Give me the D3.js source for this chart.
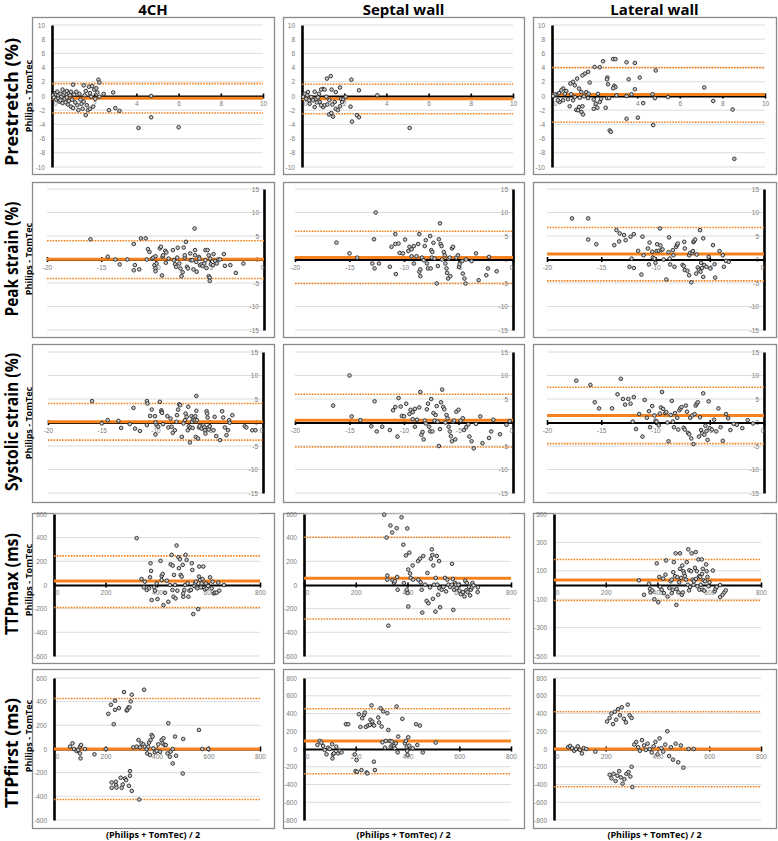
<!DOCTYPE html>
<html><head><meta charset="utf-8">
<script src="https://cdn.jsdelivr.net/npm/d3@7"></script>
<style>body{margin:0;background:#fff}svg{display:block}</style>
</head><body><svg id="c" width="778" height="841"></svg>
<script>
// ---------------- DATA ----------------
const columnTitles = ["4CH", "Septal wall", "Lateral wall"];
const rowTitles = ["Prestretch (%)", "Peak strain (%)", "Systolic strain (%)", "TTPmax (ms)", "TTPfirst (ms)"];
const yAxisTitle = "Philips - TomTec";
const xAxisTitle = "(Philips + TomTec) / 2";

const xTicksPrestretch = [0, 2, 4, 6, 8, 10];
const yTicksPrestretch = [-10, -8, -6, -4, -2, 0, 2, 4, 6, 8, 10];
const xTicksStrain = [-20, -15, -10, -5, 0];
const yTicksStrain = [-15, -10, -5, 0, 5, 10, 15];
const xTicksTime = [0, 200, 400, 600, 800];
const yTicksTime600 = [-600, -400, -200, 0, 200, 400, 600];
const yTicksTime500 = [-500, -300, -100, 100, 300, 500];
const yTicksTime800 = [-800, -600, -400, -200, 0, 200, 400, 600, 800];

// [mean, upper LoA, lower LoA] per column (4CH, Septal, Lateral)
const prestretchLimits = [[-0.3, 1.75, -2.4], [-0.37, 1.65, -2.5], [0.2, 4.0, -3.7]];
const peakLimits = [[0.05, 4.0, -4.05], [0.45, 6.0, -5.1], [1.15, 6.8, -4.55]];
const systolicLimits = [[0.15, 4.05, -3.75], [0.5, 6.0, -5.2], [1.5, 7.5, -4.5]];
const ttpmaxLimits = [[34, 246, -190], [57, 404, -287], [36, 180, -109]];
const ttpfirstLimits = [[0, 427, -427], [90, 453, -279], [0, 420, -425]];

const prestretch4CH = [[0.05,0.1],[0.1,-0.2],[0.15,0.4],[0.2,0.2],[0.2,-0.5],[0.25,0.6],[0.3,-0.3],[0.3,0.1],[0.35,-0.8],[0.4,0.3],[0.4,-0.6],[0.45,-0.1],[0.5,0.9],[0.5,-1.0],[0.55,0.2],[0.6,-0.4],[0.6,0.5],[0.65,-0.9],[0.7,0.7],[0.7,-0.2],[0.75,-1.2],[0.8,0.4],[0.8,-0.7],[0.85,0.1],[0.9,-1.5],[0.9,0.6],[0.95,-0.5],[1.0,1.6],[1.0,-1.7],[1.05,0.2],[1.1,-0.9],[1.15,0.6],[1.2,-1.3],[1.25,-2.0],[1.3,0.3],[1.35,-0.5],[1.4,-1.1],[1.45,-1.8],[1.5,1.5],[1.5,-0.8],[1.55,0.1],[1.6,-2.7],[1.6,0.7],[1.65,-1.3],[1.7,-2.0],[1.75,1.3],[1.8,-1.8],[1.8,0.4],[1.85,-0.1],[1.9,1.4],[1.95,-1.5],[2.0,0.9],[2.05,-0.4],[2.1,1.1],[2.15,0.5],[2.2,2.3],[2.25,1.9],[2.25,-0.1],[2.45,0.3],[2.7,-2.0],[2.9,0.5],[3.0,-1.7],[3.2,-2.1],[4.1,-4.5],[4.7,-3.0],[4.7,0.0],[6.0,-4.4]];
const prestretchSeptal = [[1.18,2.45],[1.36,2.8],[2.34,2.3],[2.7,0.8],[3.57,0.1],[5.1,-4.5],[2.37,-3.6],[2.6,-2.7],[2.7,-3.0],[2.3,-1.5],[1.28,-2.6],[1.47,-2.9],[1.39,-2.4],[1.6,-1.8],[1.8,1.2],[1.4,0.9],[1.0,1.0],[0.9,0.9],[1.07,0.9],[0.8,0.3],[1.0,-1.55],[1.07,-1.3],[1.2,-1.2],[1.6,0.55],[1.85,-0.4],[1.95,-0.5],[2.07,-0.1],[1.7,-2.0],[1.8,-1.45],[1.55,-0.85],[0.52,-0.6],[0.36,-1.1],[0.6,-1.55],[0.28,0.55],[0.13,0.3],[0.2,-0.4],[0.44,-0.15],[0.68,-0.4],[0.84,-0.85],[0.05,-0.1],[0.33,-0.6],[0.76,-0.2],[1.3,-0.6],[1.15,-0.1],[1.44,-1.2],[1.9,-0.85],[0.6,0.6],[0.9,-1.3],[0.25,0.1],[0.7,-0.9]];
const prestretchLateral = [[2.4,4.9],[2.87,5.2],[2.98,5.2],[3.5,4.75],[3.89,4.65],[2.0,4.1],[2.24,4.05],[4.87,3.6],[1.7,3.4],[1.54,3.15],[1.43,2.9],[2.6,2.6],[2.58,2.35],[3.6,2.35],[4.12,2.6],[1.18,2.45],[0.99,2.0],[1.77,1.9],[0.86,1.75],[1.07,1.5],[2.63,1.65],[2.92,1.45],[2.98,1.25],[2.87,1.1],[3.89,0.95],[7.15,1.2],[0.52,1.05],[0.44,0.8],[0.67,0.7],[1.27,1.05],[1.38,0.55],[1.61,0.55],[1.72,0.3],[2.16,0.3],[3.03,0.1],[3.5,0.0],[3.73,0.25],[4.72,0.25],[4.83,-0.3],[5.45,-0.15],[7.57,-0.7],[8.48,-1.9],[8.56,-8.85],[2.52,-1.65],[2.71,-4.85],[2.76,-5.05],[3.5,-3.2],[4.03,-3.05],[4.28,-1.0],[4.75,-4.1],[0.83,-1.45],[1.14,-1.95],[1.27,-1.55],[1.43,-1.45],[1.38,-2.25],[1.46,-2.6],[1.22,-2.0],[1.96,-1.8],[2.13,-1.65],[2.05,-1.1],[2.24,-0.85],[1.96,-0.5],[2.3,-0.4],[2.59,-0.3],[2.68,-0.3],[1.69,-0.3],[0.99,-0.6],[0.75,-0.45],[0.52,-0.6],[0.36,-0.85],[0.28,-0.6],[0.2,0.2],[0.13,0.2],[0.05,0.0],[0.33,0.4],[0.6,0.3],[0.9,0.25],[1.07,-0.15],[1.3,-0.25],[1.5,-0.05]];

const peak4CH = [[-16.0,4.3],[-14.4,0.6],[-13.7,0],[-13.3,-1.05],[-12.6,0],[-12.0,3.3],[-11.9,-1.2],[-12.0,-2.3],[-11.5,-2.1],[-11.35,4.5],[-10.9,4.5],[-10.7,2.2],[-10.55,1.6],[-10.8,0],[-10.3,0.2],[-10.2,0.4],[-10.0,0.7],[-10.1,-1.2],[-10.0,-1.9],[-10.0,-2.5],[-9.9,-0.85],[-9.4,-3.4],[-9.6,2.35],[-9.5,2.7],[-9.35,0.6],[-9.3,0.9],[-9.1,1.85],[-9.0,1.5],[-9.05,-0.7],[-8.8,0.2],[-8.4,2.0],[-8.3,-0.15],[-8.2,-1.0],[-8.1,-1.55],[-8.0,0.4],[-7.95,2.5],[-7.8,-0.85],[-7.7,-1.9],[-7.6,-3.55],[-7.5,-2.7],[-7.4,2.55],[-7.3,0.4],[-7.3,0.9],[-7.2,3.75],[-7.1,-1.55],[-7.0,-1.9],[-6.8,1.3],[-6.75,-0.15],[-6.6,-0.15],[-6.5,-2.1],[-6.4,6.6],[-6.35,2.0],[-6.35,0.9],[-6.25,-0.5],[-6.2,-2.6],[-6.0,0.55],[-5.95,0.2],[-5.9,-1.2],[-5.75,-1.0],[-5.65,-1.4],[-5.5,-0.85],[-5.4,2.0],[-5.4,-0.15],[-5.3,-1.8],[-5.2,2.0],[-5.1,0.9],[-5.1,-3.55],[-5.0,-3.85],[-5.0,-4.55],[-4.95,0.2],[-4.9,-1.0],[-4.7,-1.2],[-4.65,1.15],[-4.5,-0.3],[-4.35,-0.85],[-4.2,0],[-4.05,0],[-3.7,1.15],[-3.6,-1.35],[-3.1,-1.2],[-2.6,-2.85],[-1.9,-0.85]];
const peakSeptal = [[-16.2,3.6],[-15.0,1.3],[-14.3,0.4],[-12.9,-0.85],[-12.75,4.3],[-12.7,-1.9],[-12.6,10.0],[-12.3,-0.85],[-11.3,-1.55],[-11.15,2.7],[-10.8,3.3],[-10.75,-3.1],[-10.8,5.4],[-10.5,3.4],[-10.4,1.4],[-10.1,1.3],[-9.9,4.25],[-9.6,1.8],[-9.5,2.7],[-9.3,2.2],[-9.3,0.7],[-9.1,-0.85],[-9.1,2.85],[-8.85,0.7],[-8.7,3.3],[-8.6,5.4],[-8.6,-2.6],[-8.5,-2.1],[-8.5,-3.55],[-8.35,0.4],[-8.2,-0.15],[-8.1,2.85],[-8.0,4.1],[-7.9,-0.85],[-7.8,-1.9],[-7.6,5.0],[-7.55,-1.9],[-7.5,2.0],[-7.45,0.4],[-7.4,1.6],[-7.3,3.55],[-7.2,0.2],[-7.0,-5.1],[-6.9,-1.4],[-6.8,4.3],[-6.7,7.7],[-6.65,3.3],[-6.55,2.85],[-6.5,0],[-6.35,1.6],[-6.25,0.9],[-6.2,-0.85],[-6.1,-1.9],[-6.05,-2.85],[-5.95,-4.05],[-5.9,0.2],[-5.8,0.4],[-5.75,-3.55],[-5.6,2.35],[-5.5,2.7],[-5.2,0.4],[-5.05,0.9],[-4.95,-1.55],[-4.9,-1.0],[-4.65,-0.35],[-4.6,-3.0],[-4.45,-4.05],[-4.35,-5.1],[-4.3,0],[-3.8,-0.35],[-3.4,1.3],[-3.15,-4.4],[-2.45,-3.35],[-2.3,-1.9],[-2.2,0.55],[-1.5,-2.5]];
const peakLateral = [[-17.7,8.75],[-16.2,8.75],[-16.2,4.25],[-15.45,3.25],[-13.8,3.05],[-13.6,6.25],[-13.3,5.55],[-13.35,3.85],[-12.9,5.2],[-12.75,4.1],[-12.3,4.85],[-12.2,0.2],[-12.0,5.4],[-12.4,-1.55],[-12.0,-1.8],[-11.6,1.85],[-11.3,-3.2],[-11.2,4.85],[-11.1,0.9],[-10.7,2.35],[-10.6,-1.05],[-10.55,3.6],[-10.3,1.65],[-10.25,0.4],[-10.1,0.2],[-10.0,-0.7],[-9.9,1.8],[-9.85,3.25],[-9.7,1.85],[-9.6,6.6],[-9.55,3.0],[-9.45,2.0],[-9.35,2.15],[-9.25,0],[-9.0,-4.25],[-8.8,1.55],[-8.75,4.7],[-8.7,0.2],[-8.65,-1.05],[-8.4,2.0],[-8.35,0.9],[-8.25,-1.55],[-8.1,2.7],[-8.0,3.1],[-7.95,3.4],[-7.5,-1.15],[-7.4,-1.4],[-7.35,3.75],[-7.3,2.35],[-7.3,-2.25],[-7.05,-2.4],[-6.9,0.9],[-6.9,-3.35],[-6.8,1.4],[-6.7,-4.85],[-6.6,1.4],[-6.55,1.8],[-6.5,3.7],[-6.45,3.9],[-6.35,4.25],[-6.25,-3.0],[-6.2,1.05],[-6.1,-1.7],[-6.0,-2.25],[-5.9,6.25],[-5.85,-2.6],[-5.8,-0.7],[-5.7,-1.8],[-5.6,-3.7],[-5.6,4.5],[-5.5,-1.2],[-5.3,-1.55],[-5.1,0.55],[-4.95,-1.9],[-4.7,3.05],[-4.55,-1.0],[-4.5,-3.85],[-4.1,1.8],[-3.8,0.9],[-3.7,-1.55],[-3.5,-0.3],[-3.25,-0.5]];

const systolic4CH = [[-15.9,4.55],[-15.0,-0.2],[-14.45,0.5],[-13.45,0.35],[-13.2,-1.15],[-12.4,-0.35],[-12.05,3.1],[-11.9,-1.3],[-11.45,-1.8],[-10.8,4.55],[-10.75,4.05],[-10.8,-0.55],[-10.5,1.4],[-10.35,2.75],[-10.05,1.35],[-10.0,0],[-9.9,-0.55],[-10.0,-2.55],[-9.75,-0.9],[-9.6,4.4],[-9.45,2.6],[-9.45,2.25],[-9.4,2.05],[-9.3,-0.35],[-8.9,1.35],[-8.8,-1.05],[-8.6,0.85],[-8.5,-0.9],[-8.4,-2.2],[-8.2,-1.65],[-8.05,0.15],[-8.0,1.55],[-7.9,2.75],[-7.8,3.85],[-7.7,3.7],[-7.55,-3.05],[-7.4,-0.2],[-7.25,0.5],[-7.2,1.9],[-7.1,1.2],[-7.0,-1.65],[-6.95,3.35],[-6.9,-0.8],[-6.8,-4.25],[-6.75,-1.05],[-6.65,1.35],[-6.6,0.15],[-6.55,-1.15],[-6.5,0.65],[-6.45,1.05],[-6.35,0.5],[-6.3,1.35],[-6.25,-3.05],[-6.2,5.65],[-6.2,2.5],[-6.15,0.5],[-6.05,-3.4],[-5.95,-1.05],[-5.9,-0.8],[-5.7,-1.3],[-5.55,-0.55],[-5.45,-1.05],[-5.4,-1.65],[-5.35,-2.35],[-5.25,2.4],[-5.2,1.9],[-5.15,1.05],[-5.1,-1.05],[-5.05,-1.5],[-4.95,-0.8],[-4.6,-1.65],[-4.5,1.2],[-4.35,-2.9],[-4.0,-3.75],[-3.8,2.4],[-3.7,1.05],[-3.55,-1.05],[-3.4,-2.7],[-3.25,-1.65],[-3.15,0.5],[-3.1,-0.05],[-2.85,1.55],[-1.7,-0.8],[-1.55,-1.05],[-1.0,-1.65],[-0.7,-1.65]];
const systolicSeptal = [[-16.5,3.6],[-15.0,10.0],[-14.8,1.3],[-14.0,0.5],[-13.0,-0.8],[-12.7,4.5],[-12.5,-1.9],[-12.0,-0.9],[-11.3,-1.6],[-11.0,2.6],[-10.8,3.3],[-10.6,-3.0],[-10.5,5.2],[-10.3,3.4],[-10.2,1.4],[-10.0,1.3],[-9.8,4.0],[-9.5,1.8],[-9.4,2.7],[-9.2,2.2],[-9.2,0.7],[-9.0,-0.9],[-9.0,2.9],[-8.8,0.6],[-8.6,3.2],[-8.5,6.5],[-8.4,-2.6],[-8.3,-2.0],[-8.2,-3.6],[-8.1,0.4],[-8.0,-0.2],[-7.9,2.8],[-7.8,4.0],[-7.7,-0.9],[-7.6,-1.9],[-7.5,5.0],[-7.4,-1.9],[-7.3,2.0],[-7.2,0.4],[-7.1,1.6],[-7.0,3.5],[-6.9,0.2],[-6.8,-5.0],[-6.7,-1.4],[-6.6,4.3],[-6.5,7.0],[-6.4,3.3],[-6.3,2.8],[-6.2,0],[-6.1,1.6],[-6.0,0.9],[-5.9,-0.9],[-5.8,-1.9],[-5.7,-2.9],[-5.6,-4.0],[-5.5,0.2],[-5.4,0.4],[-5.3,-3.6],[-5.2,2.3],[-5.0,2.7],[-4.8,0.4],[-4.6,0.9],[-4.5,-1.6],[-4.3,-1.0],[-4.1,-0.4],[-4.0,-3.0],[-3.8,-4.0],[-3.6,-5.5],[-3.4,-0.3],[-3.0,1.3],[-2.8,-4.4],[-2.2,-3.3],[-2.0,-1.9],[-1.8,0.6],[-1.2,-2.5],[-0.6,-0.5],[-0.3,0.3]];
const systolicLateral = [[-17.3,8.9],[-16.0,8.0],[-15.6,4.3],[-15.2,3.0],[-14.0,3.0],[-13.5,6.0],[-13.2,9.3],[-13.0,5.0],[-12.8,3.8],[-12.5,5.0],[-12.3,4.0],[-12.1,0.2],[-12.0,5.4],[-11.8,-1.4],[-11.5,1.8],[-11.2,-3.0],[-11.0,4.8],[-10.8,1.0],[-10.6,2.4],[-10.5,-1.0],[-10.3,3.5],[-10.1,1.5],[-10.0,0.4],[-9.9,0.2],[-9.7,-0.6],[-9.6,1.9],[-9.5,3.2],[-9.4,6.5],[-9.3,2.9],[-9.1,2.0],[-9.0,2.2],[-8.9,0.0],[-8.8,-4.0],[-8.6,1.6],[-8.5,4.6],[-8.4,0.2],[-8.3,-1.0],[-8.2,2.0],[-8.0,1.0],[-7.9,-1.5],[-7.8,2.6],[-7.7,3.0],[-7.6,3.3],[-7.4,-1.1],[-7.3,-1.5],[-7.2,3.6],[-7.1,2.3],[-7.0,-2.2],[-6.9,-2.5],[-6.8,1.0],[-6.7,-3.4],[-6.6,1.5],[-6.5,-4.6],[-6.4,1.8],[-6.3,3.6],[-6.2,4.0],[-6.1,4.3],[-6.0,-3.0],[-5.9,1.1],[-5.8,-1.6],[-5.7,-2.3],[-5.6,6.2],[-5.5,-2.6],[-5.4,-0.7],[-5.3,-1.8],[-5.2,-3.7],[-5.1,4.5],[-5.0,-1.2],[-4.8,-1.5],[-4.6,0.6],[-4.4,-1.9],[-4.2,3.0],[-4.0,-1.0],[-3.8,-3.9],[-3.5,1.8],[-3.3,0.9],[-3.1,-1.6],[-2.8,-0.3],[-2.5,-0.5],[-2.0,-1.2],[-1.5,0.5],[-1.0,-0.2]];

const ttpmax4CH = [[321,396],[340,51],[353,28],[349,-20],[360,-42],[369,-28],[373,65],[375,184],[377,119],[379,-127],[389,-20],[392,-48],[399,14],[402,-119],[414,204],[418,76],[418,42],[422,93],[425,-170],[431,-65],[438,37],[444,-142],[450,0],[453,175],[457,255],[460,-42],[461,164],[464,-99],[466,85],[470,0],[472,-113],[476,334],[479,-48],[483,235],[485,142],[489,218],[492,85],[496,71],[500,170],[502,-99],[502,-71],[506,-42],[509,0],[511,255],[515,212],[519,14],[522,-99],[526,-48],[532,-42],[535,184],[537,127],[541,-246],[545,-8],[548,14],[551,28],[554,-20],[557,-28],[560,-204],[563,71],[564,156],[567,42],[570,-20],[573,14],[577,51],[580,156],[583,-23],[586,-37],[590,14],[593,-28],[599,-8],[606,65],[612,-28],[616,28],[621,-71],[625,-65],[632,-65],[638,20],[642,-48],[660,0]];
const ttpmaxSeptal = [[310,594],[319,401],[322,45],[322,80],[326,-344],[334,503],[341,444],[342,40],[348,17],[351,31],[358,480],[360,68],[362,-40],[377,572],[384,341],[386,17],[394,250],[397,-40],[399,478],[400,-68],[403,131],[403,-182],[407,273],[410,97],[412,60],[420,165],[422,45],[441,202],[442,45],[448,222],[451,23],[455,-40],[457,-233],[461,245],[468,3],[474,-134],[477,102],[481,-154],[487,-20],[490,222],[494,301],[496,253],[498,-117],[500,165],[503,3],[508,-225],[509,60],[513,245],[515,3],[519,-82],[522,202],[523,-26],[526,-188],[532,-40],[539,-17],[545,60],[549,-54],[554,45],[558,3],[565,-17],[571,3],[572,179],[575,51],[577,-210],[580,-40],[584,17],[587,3],[590,-26],[597,3],[601,-48],[606,-77],[614,-60],[620,-97],[623,37],[627,-45],[629,17],[632,-60],[638,-17],[642,-88],[645,-40],[649,-20],[651,17],[655,-3],[671,-60],[672,-20]];
const ttpmaxLateral = [[328,33],[348,-69],[367,9],[371,-28],[373,-52],[380,-38],[388,-100],[397,152],[403,-121],[407,57],[410,-14],[416,-33],[422,45],[425,-57],[431,73],[433,173],[439,-81],[446,-21],[451,26],[455,38],[455,-57],[459,-33],[461,90],[463,161],[468,62],[470,223],[473,-140],[474,-28],[477,55],[481,-52],[484,19],[487,223],[487,114],[491,50],[494,-69],[496,137],[498,-52],[500,97],[503,81],[506,62],[510,38],[513,161],[517,2],[519,251],[522,-38],[523,104],[526,-14],[530,97],[532,223],[536,38],[539,2],[541,26],[545,121],[548,232],[549,43],[552,97],[554,-9],[558,180],[561,62],[562,-33],[565,57],[567,2],[571,180],[572,78],[574,-33],[575,114],[578,33],[581,-40],[584,26],[588,145],[590,97],[593,57],[597,-9],[601,19],[614,102],[621,-45],[624,-28],[629,-14],[642,0],[642,-85],[651,-69],[658,-52],[664,-38]];

const ttpfirst4CH = [[62,20],[72,48],[78,0],[88,-17],[94,-8],[101,20],[101,-37],[103,-79],[105,34],[120,0],[157,-45],[201,0],[211,297],[221,374],[224,-283],[224,-328],[232,209],[237,331],[237,408],[240,-277],[241,-306],[243,-326],[252,345],[259,-243],[263,-328],[267,-300],[272,481],[276,-249],[280,-263],[282,326],[285,331],[289,351],[291,-311],[293,351],[295,-226],[298,402],[302,459],[295,-187],[302,-354],[308,14],[321,20],[328,76],[331,-427],[334,14],[340,48],[347,40],[350,501],[353,20],[360,0],[362,-37],[366,20],[369,54],[373,-51],[375,76],[379,119],[383,105],[386,6],[392,-28],[399,-17],[405,40],[412,-23],[418,76],[422,48],[425,91],[429,34],[434,34],[441,-37],[444,218],[450,-65],[453,-23],[461,0],[461,-122],[470,105],[474,-57],[500,-207],[502,85],[563,161],[576,0],[599,0]];
const ttpfirstSeptal = [[52,45],[61,91],[67,72],[74,34],[80,-11],[87,-60],[93,15],[99,0],[109,53],[112,-60],[110,-106],[116,-49],[125,26],[132,-49],[138,-23],[145,-38],[162,279],[171,279],[196,-60],[203,-125],[199,-249],[205,-257],[212,392],[218,249],[222,-238],[225,347],[232,385],[235,411],[239,249],[242,-264],[245,-275],[248,264],[255,272],[257,328],[261,491],[264,309],[267,272],[270,-143],[271,264],[274,-238],[287,355],[290,298],[296,460],[300,253],[303,75],[306,423],[313,15],[316,91],[322,404],[326,215],[332,91],[335,26],[339,83],[342,38],[348,34],[351,8],[355,64],[358,479],[362,-38],[364,140],[380,340],[390,64],[394,91],[397,26],[399,-23],[400,-68],[403,132],[407,38],[420,8],[433,279],[438,45],[448,264],[459,-38],[509,72]];
const ttpfirstLateral = [[55,20],[62,35],[70,10],[78,-20],[85,0],[92,30],[100,-10],[108,-50],[115,10],[125,0],[160,-30],[205,310],[215,350],[222,400],[228,280],[235,420],[240,330],[248,450],[255,380],[262,470],[270,340],[278,300],[285,500],[292,380],[300,350],[215,-290],[222,-330],[230,-280],[238,-360],[245,-300],[252,-250],[258,-320],[265,-390],[272,-340],[280,-280],[288,-260],[295,-310],[300,-200],[303,-430],[310,50],[318,80],[325,20],[332,-20],[340,100],[348,40],[355,-10],[362,60],[370,0],[378,-40],[385,30],[392,80],[400,-60],[408,120],[415,10],[422,-30],[430,50],[438,200],[445,-80],[452,20],[460,-120],[470,60],[480,-150],[490,40],[500,-210],[520,0],[540,0]];

// ---------------- LAYOUT ----------------
const svg = d3.select("#c");
const colBox = [[32, 274], [283, 524], [533, 776]];
const rowBox = [[17, 174], [182, 337], [344, 502], [513, 663], [669, 828]];
const plotX = [
  [[52, 263], [302, 513], [552, 765]],
  [[47, 264], [295, 513], [547, 764]],
  [[48, 263], [295, 513], [547, 764]],
  [[54, 260], [304, 511], [554, 761]],
  [[54, 260], [304, 511], [554, 761]]];
const plotY = [[25, 167], [189, 330], [352, 493], [514, 656], [678, 820]];
const rowLabelY = [102, 259, 422, 584, 753];
const rowLabelLen = [128, 115, 138, 102, 110];
const axisLabelY = [96, 259, 423, 580, 736];
const ORANGE = "#f5821f";
const FONT = "'Open Sans', 'DejaVu Sans', sans-serif";
const TICKFONT = "'Liberation Sans', Arial, sans-serif";
const fmt = d => String(d);

const rows = [
  {xd: [0, 10], xt: xTicksPrestretch, yd: [[-10, 10], [-10, 10], [-10, 10]], yt: [yTicksPrestretch, yTicksPrestretch, yTicksPrestretch], pts: [prestretch4CH, prestretchSeptal, prestretchLateral], lim: prestretchLimits},
  {xd: [-20, 0], xt: xTicksStrain, yd: [[-15, 15], [-15, 15], [-15, 15]], yt: [yTicksStrain, yTicksStrain, yTicksStrain], pts: [peak4CH, peakSeptal, peakLateral], lim: peakLimits},
  {xd: [-20, 0], xt: xTicksStrain, yd: [[-15, 15], [-15, 15], [-15, 15]], yt: [yTicksStrain, yTicksStrain, yTicksStrain], pts: [systolic4CH, systolicSeptal, systolicLateral], lim: systolicLimits},
  {xd: [0, 800], xt: xTicksTime, yd: [[-600, 600], [-600, 600], [-500, 500]], yt: [yTicksTime600, yTicksTime600, yTicksTime500], pts: [ttpmax4CH, ttpmaxSeptal, ttpmaxLateral], lim: ttpmaxLimits},
  {xd: [0, 800], xt: xTicksTime, yd: [[-600, 600], [-800, 800], [-800, 800]], yt: [yTicksTime600, yTicksTime800, yTicksTime800], pts: [ttpfirst4CH, ttpfirstSeptal, ttpfirstLateral], lim: ttpfirstLimits}
];

rows.forEach((R, r) => {
  [0, 1, 2].forEach(c => {
    const g = svg.append("g");
    const [bx0, bx1] = colBox[c];
    const [by0, by1] = rowBox[r];
    g.append("rect").attr("x", bx0 + 0.5).attr("y", by0 + 0.5).attr("width", bx1 - bx0).attr("height", by1 - by0)
      .attr("fill", "#fff").attr("stroke", "#8a8a8a").attr("stroke-width", 1.3);
    const x = d3.scaleLinear().domain(R.xd).range(plotX[r][c]);
    const y = d3.scaleLinear().domain(R.yd[c]).range([plotY[r][1], plotY[r][0]]);
    // gridlines
    g.append("g").selectAll("line").data(R.yt[c].filter(v => v !== 0)).join("line")
      .attr("x1", plotX[r][c][0]).attr("x2", plotX[r][c][1])
      .attr("y1", d => y(d)).attr("y2", d => y(d))
      .attr("stroke", "#dcdcdc").attr("stroke-width", 1);
    // y axis at x = 0
    const ya = g.append("g").attr("transform", `translate(${x(0)},0)`)
      .call(d3.axisLeft(y).tickValues(R.yt[c]).tickFormat(fmt).tickSize(0).tickPadding(r === 1 || r === 2 ? 5 : 7));
    ya.select(".domain").attr("stroke", "#000").attr("stroke-width", 2.6);
    ya.selectAll("text").attr("fill", "#7a7a7a").attr("font-size", 6.5).attr("font-family", TICKFONT);
    // x axis at y = 0
    const xa = g.append("g").attr("transform", `translate(0,${y(0)})`)
      .call(d3.axisBottom(x).tickValues(R.xt).tickFormat(fmt).tickSize(2.5).tickSizeOuter(0).tickPadding(3));
    xa.select(".domain").attr("stroke", "#000").attr("stroke-width", 2);
    xa.selectAll(".tick line").attr("stroke", "#000").attr("stroke-width", 1.6).attr("y1", -2.5);
    xa.selectAll("text").attr("fill", "#7a7a7a").attr("font-size", 6.5).attr("font-family", TICKFONT)
      .attr("dx", d => d === 0 ? (R.xd[0] === 0 ? 3 : -2) : 0);
    // limits of agreement
    const [mean, up, lo] = R.lim[c];
    g.append("g").selectAll("line").data([up, lo]).join("line")
      .attr("x1", plotX[r][c][0]).attr("x2", plotX[r][c][1])
      .attr("y1", d => y(d)).attr("y2", d => y(d))
      .attr("stroke", ORANGE).attr("stroke-width", 1.6).attr("stroke-dasharray", "1.6,1.2");
    g.append("line").attr("x1", plotX[r][c][0]).attr("x2", plotX[r][c][1])
      .attr("y1", y(mean)).attr("y2", y(mean)).attr("stroke", ORANGE).attr("stroke-width", 3);
    // points
    g.append("g").selectAll("circle").data(R.pts[c]).join("circle")
      .attr("cx", d => x(d[0])).attr("cy", d => y(d[1])).attr("r", 1.8)
      .attr("fill", "#c8c8c8").attr("stroke", "#2e2e2e").attr("stroke-width", 0.95);
  });
  // row titles
  svg.append("text").attr("transform", `translate(11,${rowLabelY[r]}) rotate(-90)`)
    .attr("text-anchor", "middle").attr("dominant-baseline", "central")
    .attr("font-family", FONT).attr("font-weight", 700).attr("font-size", 17).attr("fill", "#000")
    .attr("textLength", rowLabelLen[r]).attr("lengthAdjust", "spacingAndGlyphs")
    .text(rowTitles[r]);
  svg.append("text").attr("transform", `translate(28,${axisLabelY[r]}) rotate(-90)`)
    .attr("text-anchor", "middle").attr("dominant-baseline", "central")
    .attr("font-family", FONT).attr("font-weight", 700).attr("font-size", 9).attr("fill", "#000")
    .text(yAxisTitle);
});

columnTitles.forEach((t, c) => {
  const cx = (colBox[c][0] + colBox[c][1]) / 2;
  svg.append("text").attr("x", cx).attr("y", 15).attr("text-anchor", "middle")
    .attr("font-family", FONT).attr("font-weight", 700).attr("font-size", 15).attr("fill", "#000").text(t);
  svg.append("text").attr("x", cx).attr("y", 838).attr("text-anchor", "middle")
    .attr("font-family", FONT).attr("font-weight", 700).attr("font-size", 9).attr("fill", "#000").text(xAxisTitle);
});
</script></body></html>
